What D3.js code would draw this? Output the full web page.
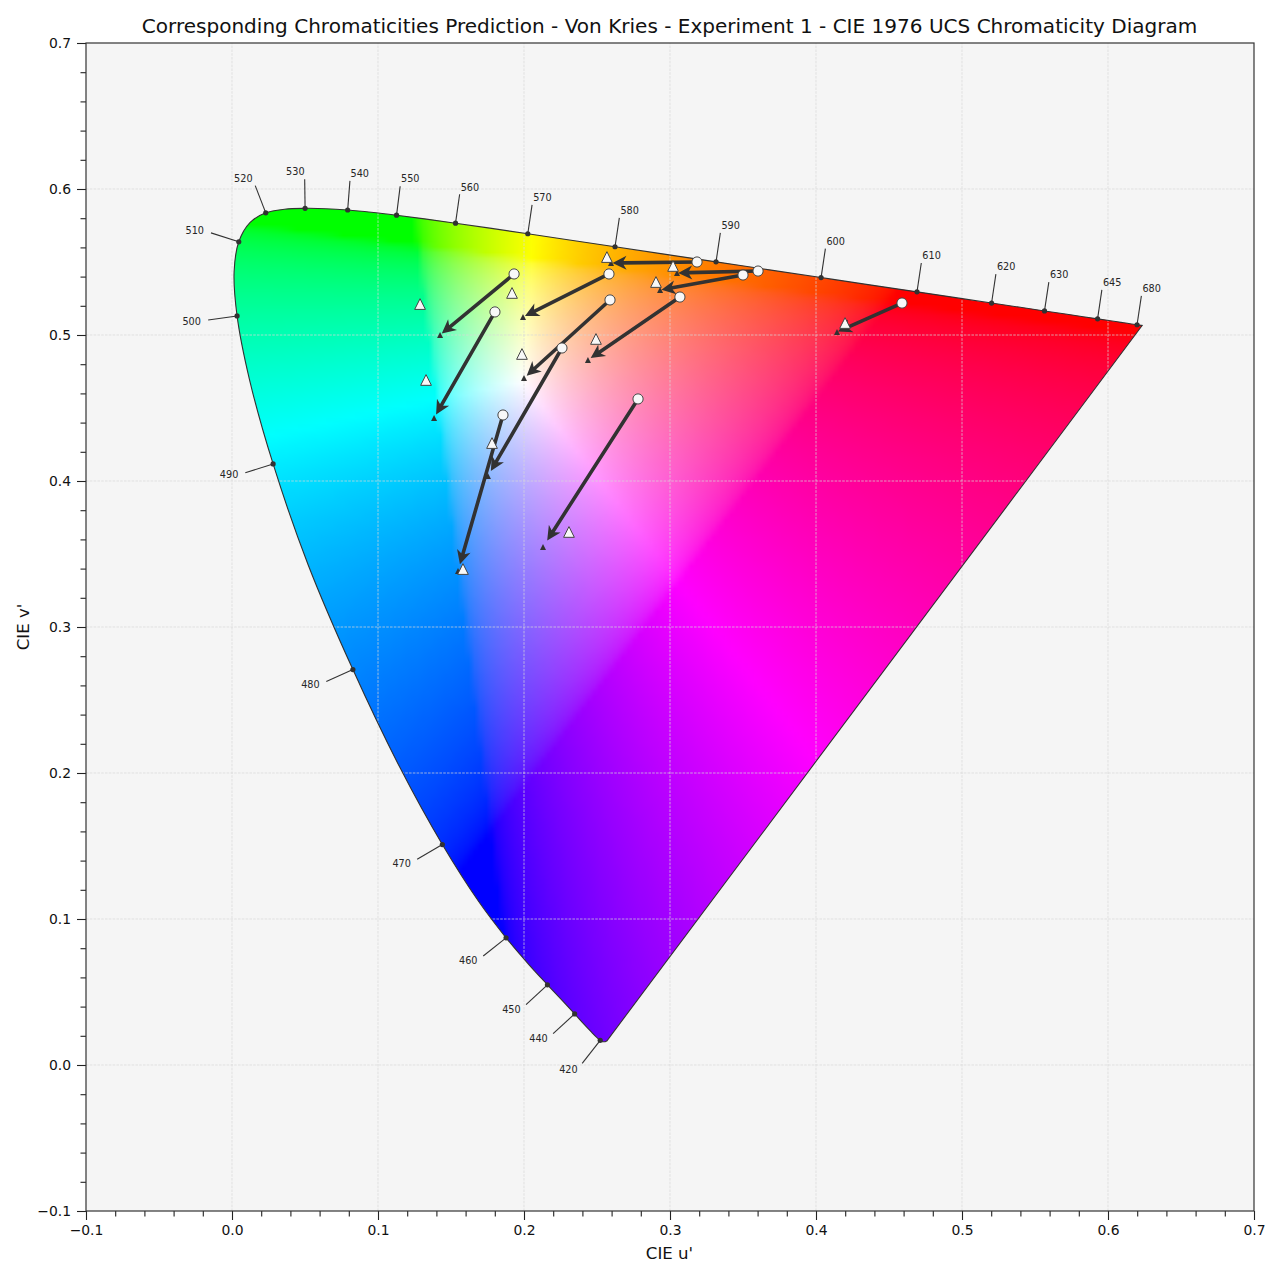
<!DOCTYPE html>
<html>
<head>
<meta charset="utf-8">
<script src="https://cdnjs.cloudflare.com/ajax/libs/d3/7.8.5/d3.min.js"></script>
<style>
  body { margin: 0; background: #fff; }
  text { font-family: "DejaVu Sans", sans-serif; }
</style>
</head>
<body>
<svg id="chart" width="1280" height="1280"></svg>
<script>
// spectral locus, CIE 1931 xy
const locusWl = [380,385,390,395,400,405,410,415,420,425,430,435,440,445,450,455,460,465,470,475,480,485,490,495,500,505,510,515,520,525,530,535,540,545,550,555,560,565,570,575,580,585,590,595,600,605,610,615,620,625,630,635,640,645,650,655,660,670,680,690,700];
const locusX = [.1741,.1740,.1738,.1736,.1733,.1730,.1726,.1721,.1714,.1703,.1689,.1669,.1644,.1611,.1566,.1510,.1440,.1355,.1241,.1096,.0913,.0687,.0454,.0235,.0082,.0039,.0139,.0389,.0743,.1142,.1547,.1929,.2296,.2658,.3016,.3373,.3731,.4087,.4441,.4788,.5125,.5448,.5752,.6029,.6270,.6482,.6658,.6801,.6915,.7006,.7079,.7140,.7190,.7230,.7260,.7283,.7300,.7320,.7334,.7344,.7347];
const locusY = [.0050,.0050,.0049,.0049,.0048,.0048,.0048,.0048,.0051,.0058,.0069,.0086,.0109,.0138,.0177,.0227,.0297,.0399,.0578,.0868,.1327,.2007,.2950,.4127,.5384,.6548,.7502,.8120,.8338,.8262,.8059,.7816,.7543,.7243,.6923,.6589,.6245,.5896,.5547,.5202,.4866,.4544,.4242,.3965,.3725,.3514,.3340,.3197,.3083,.2993,.2920,.2859,.2809,.2770,.2740,.2717,.2700,.2680,.2666,.2656,.2653];
const labelWl = [420,440,450,460,470,480,490,500,510,520,530,540,550,560,570,580,590,600,610,620,630,645,680];

// Breneman experiment 1, u'v'
const testU = [.1932,.1801,.1856,.2260,.2589,.2582,.2781,.3185,.3068,.3603,.3500,.4589];
const testV = [.5418,.5158,.4452,.4911,.5240,.5418,.4562,.5500,.5260,.5438,.5411,.5219];
const refU = [.1288,.1329,.1582,.1781,.1986,.1918,.2308,.2568,.2493,.3021,.2904,.4199];
const refV = [.5212,.4692,.3397,.4260,.4870,.5288,.3651,.5534,.4973,.5473,.5363,.5082];
const predU = [.1425,.1384,.1548,.1753,.2000,.1993,.2130,.2596,.2438,.3048,.2932,.4144];
const predV = [.5000,.4432,.3384,.4034,.4705,.5123,.3548,.5493,.4829,.5425,.5308,.5021];

const majorTicks = [-0.1,0,0.1,0.2,0.3,0.4,0.5,0.6,0.7];
const minorTicks = d3.range(-10, 71, 2).filter((d) => d % 10 !== 0).map((d) => d / 100);

const dark = '#323232';
const svg = d3.select('#chart');
const xScale = d3.scaleLinear().domain([-0.1, 0.7]).range([86, 1254]);
const yScale = d3.scaleLinear().domain([-0.1, 0.7]).range([1211, 43]);

function xyToUv(x, y) {
  const d = -2 * x + 12 * y + 3;
  return [4 * x / d, 9 * y / d];
}
const locus = locusWl.map((w, i) => xyToUv(locusX[i], locusY[i]));

// gamut picture: normalised sRGB over the unit square
function encode(c) {
  return c <= 0.0031308 ? 12.92 * c : 1.055 * Math.pow(c, 1 / 2.4) - 0.055;
}
const samples = 256;
const canvas = document.createElement('canvas');
canvas.width = samples;
canvas.height = samples;
const ctx = canvas.getContext('2d');
const img = ctx.createImageData(samples, samples);
for (let j = 0; j < samples; j++) {
  for (let i = 0; i < samples; i++) {
    const u = i / (samples - 1);
    const v = Math.max(1 - j / (samples - 1), 1e-4);
    const d = 6 * u - 16 * v + 12;
    const x = 9 * u / d;
    const y = 4 * v / d;
    const X = x / y;
    const Z = (1 - x - y) / y;
    const r = 3.2406 * X - 1.5372 - 0.4986 * Z;
    const g = -0.9689 * X + 1.8758 + 0.0415 * Z;
    const b = 0.0557 * X - 0.2040 + 1.0570 * Z;
    const m = Math.max(r, g, b);
    const k = (i + j * samples) * 4;
    img.data[k] = 255 * encode(Math.max(r / m, 0));
    img.data[k + 1] = 255 * encode(Math.max(g / m, 0));
    img.data[k + 2] = 255 * encode(Math.max(b / m, 0));
    img.data[k + 3] = 255;
  }
}
ctx.putImageData(img, 0, 0);

svg.append('rect')
  .attr('x', xScale(-0.1))
  .attr('y', yScale(0.7))
  .attr('width', xScale(0.7) - xScale(-0.1))
  .attr('height', yScale(-0.1) - yScale(0.7))
  .attr('fill', '#f5f5f5');

const locusLine = d3.line()
  .x((d) => xScale(d[0]))
  .y((d) => yScale(d[1]))
  .curve(d3.curveCatmullRom);
const locusPath = locusLine(locus) + 'Z';

svg.append('clipPath')
  .attr('id', 'locus-clip')
  .append('path')
  .attr('d', locusPath);

svg.append('image')
  .attr('href', canvas.toDataURL())
  .attr('x', xScale(0))
  .attr('y', yScale(1))
  .attr('width', xScale(1) - xScale(0))
  .attr('height', yScale(0) - yScale(1))
  .attr('preserveAspectRatio', 'none')
  .attr('clip-path', 'url(#locus-clip)');

// grid
const grid = svg.append('g')
  .attr('stroke', '#d8d8d8')
  .attr('stroke-width', 0.7)
  .attr('stroke-dasharray', '2.6 1.2');
grid.selectAll('.gx')
  .data(majorTicks.slice(1, -1))
  .join('line')
  .attr('class', 'gx')
  .attr('x1', (d) => xScale(d))
  .attr('x2', (d) => xScale(d))
  .attr('y1', yScale(-0.1))
  .attr('y2', yScale(0.7));
grid.selectAll('.gy')
  .data(majorTicks.slice(1, -1))
  .join('line')
  .attr('class', 'gy')
  .attr('y1', (d) => yScale(d))
  .attr('y2', (d) => yScale(d))
  .attr('x1', xScale(-0.1))
  .attr('x2', xScale(0.7));

svg.append('path')
  .attr('d', locusPath)
  .attr('fill', 'none')
  .attr('stroke', dark)
  .attr('stroke-width', 1.1);

// wavelength ticks and labels
const equalEnergy = xyToUv(1 / 3, 1 / 3);
const annotations = labelWl.map((w) => {
  const i = locusWl.indexOf(w);
  const a = locus[i - 1];
  const b = locus[i + 1];
  const p = locus[i];
  let n = [-(b[1] - a[1]), b[0] - a[0]];
  const len = Math.hypot(n[0], n[1]);
  n = [n[0] / len, n[1] / len];
  const s = (n[0] * (p[0] - equalEnergy[0]) + n[1] * (p[1] - equalEnergy[1])) > 0 ? 1 : -1;
  return { w, p, n: [n[0] * s, n[1] * s] };
});

const annot = svg.append('g');
annot.selectAll('line')
  .data(annotations)
  .join('line')
  .attr('x1', (d) => xScale(d.p[0]))
  .attr('y1', (d) => yScale(d.p[1]))
  .attr('x2', (d) => xScale(d.p[0] + d.n[0] * 0.02))
  .attr('y2', (d) => yScale(d.p[1] + d.n[1] * 0.02))
  .attr('stroke', dark)
  .attr('stroke-width', 1.1);
annot.selectAll('circle')
  .data(annotations)
  .join('circle')
  .attr('cx', (d) => xScale(d.p[0]))
  .attr('cy', (d) => yScale(d.p[1]))
  .attr('r', 2.6)
  .attr('fill', dark);
annot.selectAll('text')
  .data(annotations)
  .join('text')
  .attr('x', (d) => xScale(d.p[0] + d.n[0] * 0.025))
  .attr('y', (d) => yScale(d.p[1] + d.n[1] * 0.025))
  .attr('dy', '0.36em')
  .attr('text-anchor', (d) => d.n[0] >= 0 ? 'start' : 'end')
  .attr('font-size', 9.7)
  .attr('fill', '#262626')
  .text((d) => d.w);

// arrows from test to prediction, stopping a little short
const headLength = 14;
const headWidth = 14;
const arrows = svg.append('g').attr('fill', dark);
testU.forEach((u, i) => {
  const x0 = xScale(u);
  const y0 = yScale(testV[i]);
  const dx = xScale(predU[i]) - x0;
  const dy = yScale(predV[i]) - y0;
  const full = Math.hypot(dx, dy);
  const len = full - Math.max(1, 0.07 * full - 4.5);
  const a = Math.atan2(dy, dx) * 180 / Math.PI;
  arrows.append('path')
    .attr('transform', `translate(${x0},${y0}) rotate(${a})`)
    .attr('d', `M0,-1.8L${len - headLength + 3},-1.8L${len - headLength},${-headWidth / 2}L${len},0L${len - headLength},${headWidth / 2}L${len - headLength + 3},1.8L0,1.8Z`);
});

// matplotlib style triangle, as wide as it is tall
const boxTriangle = {
  draw(context, size) {
    const h = Math.sqrt(size) / 2;
    context.moveTo(0, -h);
    context.lineTo(h, h);
    context.lineTo(-h, h);
    context.closePath();
  }
};

// predicted, small triangles
svg.append('g').selectAll('path')
  .data(predU)
  .join('path')
  .attr('d', d3.symbol(boxTriangle, 36))
  .attr('transform', (d, i) => `translate(${xScale(d)},${yScale(predV[i])})`)
  .attr('fill', dark);

// measured reference, large triangles
svg.append('g').selectAll('path')
  .data(refU)
  .join('path')
  .attr('d', d3.symbol(boxTriangle, 115))
  .attr('transform', (d, i) => `translate(${xScale(d)},${yScale(refV[i])})`)
  .attr('fill', '#f8f8f8')
  .attr('stroke', '#454545')
  .attr('stroke-width', 1);

// test, circles
svg.append('g').selectAll('circle')
  .data(testU)
  .join('circle')
  .attr('cx', (d) => xScale(d))
  .attr('cy', (d, i) => yScale(testV[i]))
  .attr('r', 5.1)
  .attr('fill', '#f8f8f8')
  .attr('stroke', '#454545')
  .attr('stroke-width', 1);

// axes
const fmt = d3.format('.1f');
function styleAxis(g) {
  g.selectAll('line').attr('stroke', '#222').attr('stroke-width', 1.1);
  g.selectAll('path').remove();
  g.selectAll('text').attr('fill', '#111').attr('font-size', 13.9).attr('font-family', '"DejaVu Sans"');
}
svg.append('g')
  .attr('transform', `translate(0,${yScale(-0.1)})`)
  .call(d3.axisBottom(xScale).tickValues(minorTicks).tickSize(5.5).tickFormat(''))
  .call(styleAxis);
svg.append('g')
  .attr('transform', `translate(0,${yScale(-0.1)})`)
  .call(d3.axisBottom(xScale).tickValues(majorTicks).tickSize(9).tickPadding(5).tickFormat(fmt))
  .call(styleAxis);
svg.append('g')
  .attr('transform', `translate(${xScale(-0.1)},0)`)
  .call(d3.axisLeft(yScale).tickValues(minorTicks).tickSize(5.5).tickFormat(''))
  .call(styleAxis);
svg.append('g')
  .attr('transform', `translate(${xScale(-0.1)},0)`)
  .call(d3.axisLeft(yScale).tickValues(majorTicks).tickSize(9).tickPadding(6).tickFormat(fmt))
  .call(styleAxis);

svg.append('rect')
  .attr('x', xScale(-0.1))
  .attr('y', yScale(0.7))
  .attr('width', xScale(0.7) - xScale(-0.1))
  .attr('height', yScale(-0.1) - yScale(0.7))
  .attr('fill', 'none')
  .attr('stroke', '#333')
  .attr('stroke-width', 1.2);

svg.append('text')
  .attr('x', 669.5)
  .attr('y', 33)
  .attr('text-anchor', 'middle')
  .attr('font-size', 20.05)
  .attr('fill', '#111')
  .text('Corresponding Chromaticities Prediction - Von Kries - Experiment 1 - CIE 1976 UCS Chromaticity Diagram');
svg.append('text')
  .attr('x', 669.5)
  .attr('y', 1259)
  .attr('text-anchor', 'middle')
  .attr('font-size', 16.6)
  .attr('fill', '#111')
  .text("CIE u'");
svg.append('text')
  .attr('transform', 'translate(29,627) rotate(-90)')
  .attr('text-anchor', 'middle')
  .attr('font-size', 16.6)
  .attr('fill', '#111')
  .text("CIE v'");
</script>
</body>
</html>
